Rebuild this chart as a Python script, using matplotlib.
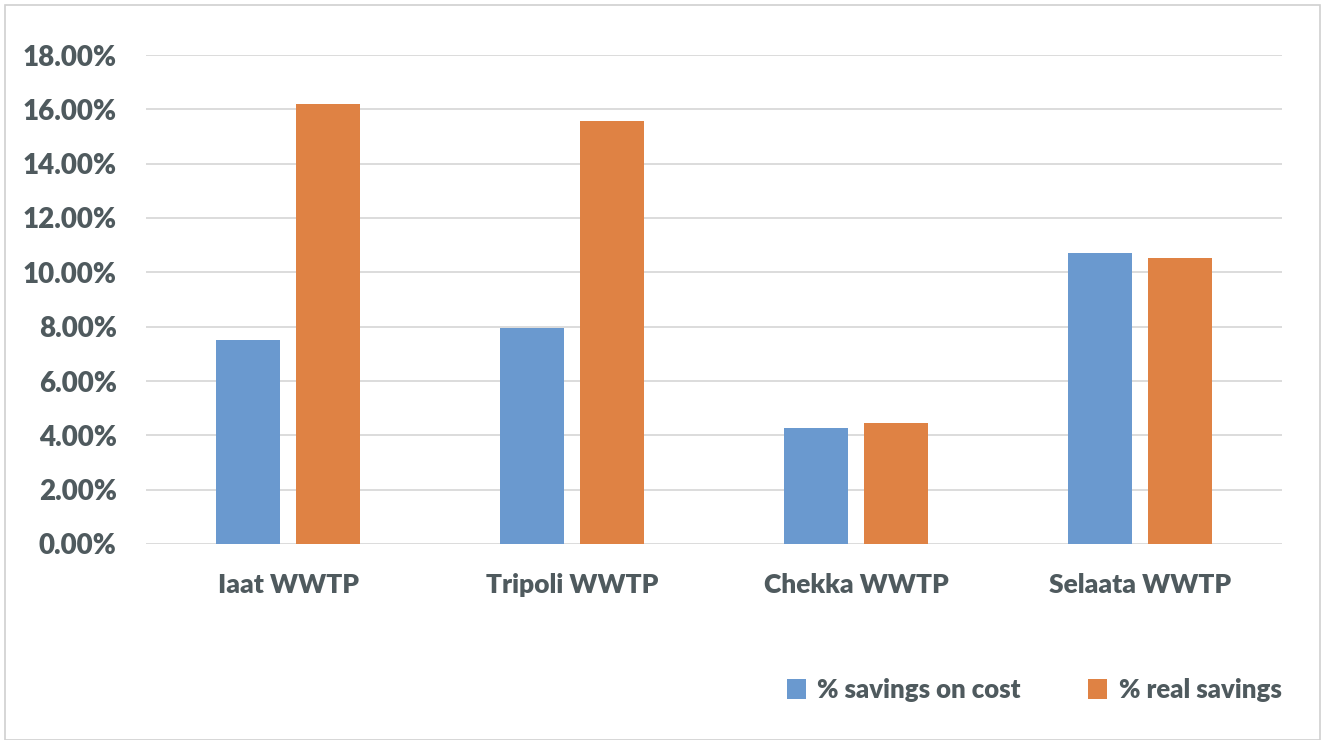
import matplotlib
matplotlib.use("Agg")
import matplotlib.pyplot as plt
from matplotlib.patches import Rectangle
from matplotlib.ticker import FuncFormatter
import numpy as np

categories = ["Iaat WWTP", "Tripoli WWTP", "Chekka WWTP", "Selaata WWTP"]
savings_on_cost = [7.51, 7.95, 4.27, 10.71]
real_savings = [16.20, 15.57, 4.45, 10.53]
series_names = ["% savings on cost", "% real savings"]
yticks = [0, 2, 4, 6, 8, 10, 12, 14, 16, 18]

BLUE = "#6a99cf"
ORANGE = "#df8244"
TEXT = "#4f5a5e"
GRID = "#d9d9d9"

plt.rcParams['font.family'] = ['Lato', 'DejaVu Sans']
WEIGHT = 'heavy'

fig = plt.figure(figsize=(13.27, 7.40), dpi=100)
fig.patches.append(Rectangle((5/1327, 0), 1315/1327, 1 - 5/740, transform=fig.transFigure,
                             fill=False, edgecolor="#d0d0d0", linewidth=1.2))

ax = fig.add_axes([146/1327, 1 - 544/740, (1282 - 146)/1327, (544 - 55)/740])
x = np.arange(len(categories))
w = 0.225
off = 0.141
ax.bar(x - off, savings_on_cost, w, color=BLUE, label=series_names[0], zorder=3)
ax.bar(x + off, real_savings, w, color=ORANGE, label=series_names[1], zorder=3)

ax.set_xlim(-0.5, len(categories) - 0.5)
ax.set_ylim(0, 18)
ax.set_yticks(yticks)
ax.yaxis.set_major_formatter(FuncFormatter(lambda v, p: f"{v:.2f}%"))
ax.grid(axis='y', color=GRID, linewidth=1.3, zorder=0)
for s in ax.spines.values():
    s.set_visible(False)
ax.tick_params(axis='both', length=0, colors=TEXT)
ax.tick_params(axis='y', pad=21, labelsize=20)
ax.tick_params(axis='x', pad=21, labelsize=19)
ax.set_xticks(x)
ax.set_xticklabels(categories)
for lab in ax.get_yticklabels() + ax.get_xticklabels():
    lab.set_fontweight(WEIGHT)

leg = fig.legend(loc='center', bbox_to_anchor=(1034/1327, 1 - 690/740), ncol=2, frameon=False,
                 prop={'size': 18.5, 'weight': WEIGHT}, handlelength=0.75, handleheight=0.8,
                 columnspacing=2.6, handletextpad=0.45)
for t in leg.get_texts():
    t.set_color(TEXT)

fig.savefig("out.png", dpi=100)
